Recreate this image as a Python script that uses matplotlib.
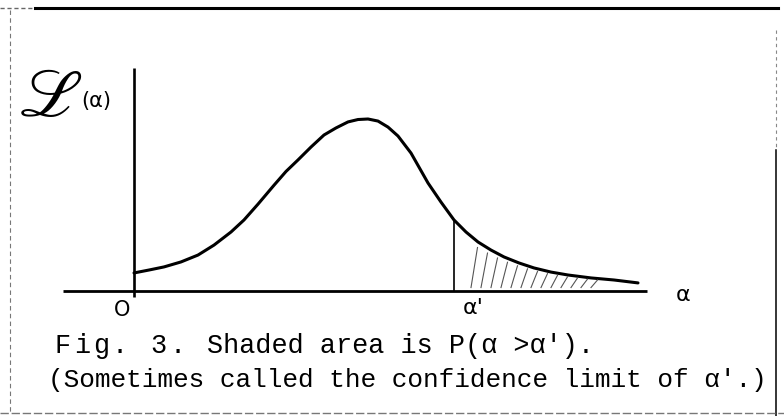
import numpy as np
import matplotlib.pyplot as plt
from matplotlib.lines import Line2D

# likelihood curve L(alpha)
alpha = [0.00, 0.30, 0.60, 0.94, 1.28, 1.60, 1.94, 2.20, 2.48, 2.80, 3.04, 3.28,
         3.54, 3.80, 4.04, 4.28, 4.48, 4.68, 4.88, 5.08, 5.28, 5.54, 5.88, 6.14,
         6.40, 6.64, 6.88, 7.14, 7.40, 7.70, 8.00, 8.34, 8.68, 9.14, 9.60, 10.08]
L = [1.05, 1.22, 1.40, 1.69, 2.09, 2.67, 3.43, 4.13, 5.05, 6.15, 6.95, 7.62,
     8.37, 9.07, 9.48, 9.83, 9.97, 10.00, 9.88, 9.53, 9.01, 8.02, 6.28, 5.17,
     4.13, 3.43, 2.85, 2.38, 1.98, 1.63, 1.34, 1.10, 0.93, 0.76, 0.64, 0.47]
alpha_prime = 6.40

caption_1a = "Fig. 3."
caption_1b = "Shaded area is P(\u03b1 >\u03b1')."
caption_2 = "(Sometimes called the confidence limit of \u03b1'.)"

W, H = 784, 416
fig = plt.figure(figsize=(W / 100, H / 100), dpi=100)

# pixel helpers for the page furniture
def fx(px):
    return px / W

def fy(py):
    return 1 - py / H

# data axes over the whole page: alpha=0 at px 134, 50 px per unit; L=0 at py 291, 17.2 px per unit
ax = fig.add_axes([0, 0, 1, 1])
x0, sx = 134, 50.0
y0, sy = 291, 17.2
ax.set_xlim(-x0 / sx, (W - x0) / sx)
ax.set_ylim(-(H - y0) / sy, y0 / sy)
ax.axis('off')

# axes drawn by hand
ax.plot([-(x0 - 63) / sx, (647 - x0) / sx], [0, 0], color='black', lw=2.0, solid_capstyle='butt')
ax.plot([0, 0], [-(297 - y0) / sy, (y0 - 68) / sy], color='black', lw=1.9, solid_capstyle='butt')

# the curve
ax.plot(alpha, L, color='black', lw=2.2, solid_capstyle='round', solid_joinstyle='round')

# alpha' ordinate and the shaded tail
top = np.interp(alpha_prime, alpha, L)
ax.plot([alpha_prime, alpha_prime], [0, top], color='black', lw=1.2)
for xs in np.arange(alpha_prime + 0.34, 9.2, 0.2):
    yt = np.interp(xs + 0.13, alpha, L)
    ax.plot([xs, xs + 0.13], [0.2, yt * 0.88], color='#555555', lw=0.8)

# axis lettering
ax.text(-0.24, -1.1, "O", fontsize=15, ha='center', va='center', family='DejaVu Sans')
ax.text(alpha_prime + 0.38, -1.0, "\u03b1'", fontsize=16, ha='center', va='center', family='DejaVu Sans')
ax.text(10.98, -0.25, "\u03b1", fontsize=16, ha='center', va='center', family='DejaVu Sans')

fig.text(fx(18), fy(97), r"$\mathscr{L}$", fontsize=48, math_fontfamily='stix', ha='left', va='center')
fig.text(fx(81), fy(101), "(\u03b1)", fontsize=15, ha='left', va='center', family='DejaVu Sans')

# typewritten caption
mono = dict(family='Liberation Mono', fontsize=19.4, va='baseline', ha='left')
for i, ch in enumerate(caption_1a):
    fig.text(fx(55 + 19 * i), fy(353), ch, **mono)
fig.text(fx(207), fy(353), caption_1b, **mono)
fig.text(fx(48), fy(387), caption_2, **dict(mono, fontsize=18.8))

# page border
fig.add_artist(Line2D([fx(0), fx(35)], [fy(8), fy(8)], color='#666666', lw=1.0, ls=(0, (3, 2))))
fig.add_artist(Line2D([fx(35), fx(778)], [fy(8), fy(8)], color='black', lw=2.2))
fig.add_artist(Line2D([fx(10), fx(10)], [fy(10), fy(413)], color='#777777', lw=0.8, ls=(0, (4, 3))))
fig.add_artist(Line2D([fx(776), fx(776)], [fy(30), fy(150)], color='#888888', lw=0.8, ls=(0, (3, 3))))
fig.add_artist(Line2D([fx(776), fx(776)], [fy(150), fy(416)], color='black', lw=1.1))
fig.add_artist(Line2D([fx(0), fx(784)], [fy(413), fy(413)], color='#777777', lw=1.0, ls=(0, (6, 2))))

fig.savefig('out.png', dpi=100)
